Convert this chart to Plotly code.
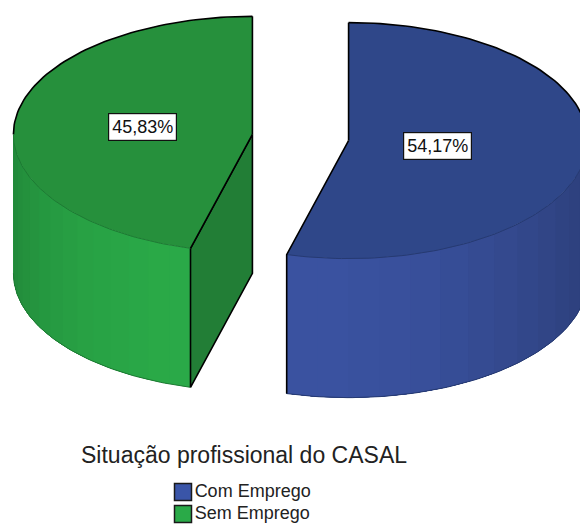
import math
import numpy as np
import plotly.graph_objects as go

categories = ["Com Emprego", "Sem Emprego"]
percentages = [54.17, 45.83]
value_labels = ["54,17%", "45,83%"]
legend_title = "Situação profissional do CASAL"

# Styles / projection of the 3D pie (pixels)
W, H = 580, 524
CX, CY = 300.5, 137.5
RX, RY = 239.0, 118.0
DEPTH = 139.0
EXPLODE = 48.5
TOP_COL = [(47, 71, 137), (38, 144, 60)]
SIDE_COL = [(58, 82, 160), (42, 170, 72)]
CUT_COL = [(40, 60, 115), (34, 126, 54)]
KEY_COL = ["#3a55a8", "#2aaa48"]
EDGE_DIM = ["#263a72", "#1d7a33"]
LABEL_FRAC = [0.376, 0.464]
KEY_X, KEY_Y, KEY_STEP = 183, 492, 22
FONT = "Liberation Sans"


def rgb(c, f=1.0):
    return "rgb(%d,%d,%d)" % tuple(round(v * f) for v in c)


def shade(theta):
    t = max(0.0, math.cos(theta - math.radians(190)))
    return 0.78 + 0.22 * t ** 1.5


def arc(c, t0, t1, n=80, dy=0.0):
    ts = np.linspace(t0, t1, n)
    return c[0] + RX * np.sin(ts), c[1] + dy - RY * np.cos(ts)


def poly(fig, xs, ys, fill):
    fig.add_trace(go.Scatter(
        x=list(xs), y=list(ys), mode="lines", fill="toself", fillcolor=fill,
        line=dict(color=fill, width=0),
        hoverinfo="skip", showlegend=False))


def stroke(fig, xs, ys, color="#000000", width=1.6):
    fig.add_trace(go.Scatter(
        x=list(xs), y=list(ys), mode="lines", line=dict(color=color, width=width),
        hoverinfo="skip", showlegend=False))


fig = go.Figure()
total = sum(percentages)
start = 0.0
annotations = []
for i, (name, pct) in enumerate(zip(categories, percentages)):
    t0 = start
    t1 = start + 2 * math.pi * pct / total
    start = t1
    mid = (t0 + t1) / 2
    c = (CX + EXPLODE * math.sin(mid), CY - EXPLODE * math.cos(mid) * RY / RX)

    # visible outer wall: strips painted over each other so that no seams show
    a = max(t0, math.pi / 2)
    b = min(t1, 3 * math.pi / 2)
    edges = np.linspace(a, b, 15)
    for e0, e1 in zip(edges[:-1], edges[1:]):
        xt, yt = arc(c, e0, b, 60)
        xb, yb = arc(c, b, e0, 60, DEPTH)
        poly(fig, np.r_[xt, xb], np.r_[yt, yb], rgb(SIDE_COL[i], shade((e0 + e1) / 2)))
    xb, yb = arc(c, a, b, 80, DEPTH)
    stroke(fig, xb, yb, EDGE_DIM[i], 1.0)

    # cut face of the slice that ends at 12 o'clock and faces the viewer
    if i == 1:
        ex, ey = arc(c, t0, t0, 1)
        ex, ey = float(ex[0]), float(ey[0])
        poly(fig, [c[0], ex, ex, c[0]], [c[1], ey, ey + DEPTH, c[1] + DEPTH], rgb(CUT_COL[i]))
        stroke(fig, [c[0], ex, ex, c[0], c[0]],
               [c[1], ey, ey + DEPTH, c[1] + DEPTH, c[1]])

    # top face
    xt, yt = arc(c, t0, t1, 160)
    poly(fig, np.r_[c[0], xt], np.r_[c[1], yt], rgb(TOP_COL[i]))
    xf, yf = arc(c, a, b, 80)
    stroke(fig, xf, yf, EDGE_DIM[i], 1.0)

    # back rim and radial edges in black
    if i == 0:
        xr, yr = arc(c, t0, math.pi / 2, 60)
        stroke(fig, np.r_[c[0], xr[0]], np.r_[c[1], yr[0]])
        stroke(fig, xr, yr)
        xe, ye = arc(c, t1, t1, 1)
        stroke(fig, [c[0], xe[0], xe[0]], [c[1], ye[0], ye[0] + DEPTH])
    else:
        xr, yr = arc(c, 3 * math.pi / 2, t1, 60)
        stroke(fig, xr, yr)
        stroke(fig, [c[0], xr[-1]], [c[1], yr[-1]])
        xe, ye = arc(c, t0, t0, 1)
        stroke(fig, [xe[0], c[0]], [ye[0], c[1]])

    # legend key with its label
    fig.add_trace(go.Scatter(
        x=[KEY_X], y=[KEY_Y + i * KEY_STEP], mode="markers+text", name=name,
        text=[name], textposition="middle right",
        textfont=dict(family=FONT, size=18, color="#222222"),
        marker=dict(symbol="square", size=17, color=KEY_COL[i],
                    line=dict(color="#1a1a1a", width=1.5)),
        hoverinfo="name", showlegend=False, cliponaxis=False))

    # value label
    f = LABEL_FRAC[i]
    annotations.append(dict(
        x=c[0] + f * RX * math.sin(mid), y=c[1] - f * RY * math.cos(mid),
        xref="x", yref="y", text=value_labels[i], showarrow=False,
        font=dict(family=FONT, size=18, color="#111111"),
        bgcolor="#ffffff", bordercolor="#111111", borderwidth=1.2, borderpad=3))

annotations.append(dict(
    x=244, y=455, xref="x", yref="y", text=legend_title, showarrow=False,
    font=dict(family=FONT, size=23, color="#222222")))

fig.update_layout(
    width=W, height=H, autosize=False,
    margin=dict(l=0, r=0, t=0, b=0),
    paper_bgcolor="#ffffff", plot_bgcolor="#ffffff",
    xaxis=dict(range=[0, W], visible=False, fixedrange=True),
    yaxis=dict(range=[H, 0], visible=False, fixedrange=True),
    annotations=annotations,
    showlegend=False,
)

fig.write_html("out.html", config=dict(displayModeBar=False),
               post_script="document.body.style.margin='0';document.body.style.overflow='hidden';")
